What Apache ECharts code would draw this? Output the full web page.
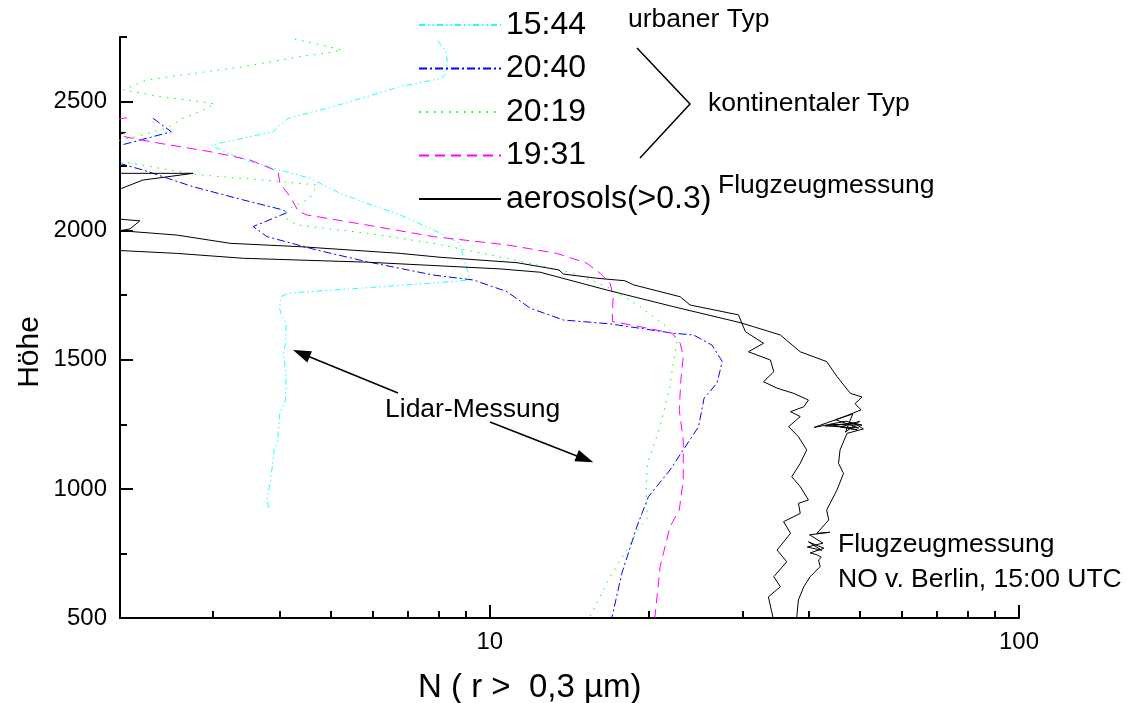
<!DOCTYPE html>
<html>
<head>
<meta charset="utf-8">
<title>Aerosol-Profile</title>
<script src="https://cdn.jsdelivr.net/npm/echarts@6.0.0/dist/echarts.min.js"></script>
<style>
  html, body { margin: 0; padding: 0; background: #fff; }
  #chart { width: 1127px; height: 703px; }
</style>
</head>
<body>
<div id="chart"></div>
<script>
// profiles: [N (r > 0.3 um), height]
// points with N < 2 lie left of the axis and are clipped away
const lidar1544 = [
  [7.97, 2735], [8.27, 2693], [8.31, 2650], [8.27, 2611], [8.11, 2590], [6.77, 2558],
  [5.85, 2519], [5.05, 2480], [4.16, 2435], [4.01, 2409], [3.89, 2383], [3.52, 2364],
  [2.98, 2332], [3.05, 2319], [3.37, 2280], [4.01, 2235], [4.57, 2203], [5.21, 2145],
  [5.85, 2106], [6.77, 2061], [7.82, 2003], [8.78, 1951], [8.91, 1899], [9.18, 1809],
  [7.81, 1797], [5.85, 1779], [4.16, 1758], [4.05, 1747], [4.00, 1700], [4.04, 1674],
  [4.12, 1641], [4.11, 1564], [4.07, 1525], [4.12, 1448], [4.11, 1344], [4.01, 1294],
  [3.97, 1178], [3.91, 1151], [3.88, 1085], [3.83, 1007], [3.79, 957], [3.83, 918]
];
const lidar2040 = [
  [2.31, 2435], [2.50, 2383], [2.015, 2332], [1.5, 2295], [2.015, 2258], [2.21, 2235],
  [2.75, 2170], [3.42, 2119], [4.07, 2080], [4.14, 2070], [3.57, 2016], [3.79, 1977],
  [4.71, 1925], [5.85, 1880], [7.82, 1828], [9.31, 1809], [10.77, 1764], [11.91, 1700],
  [13.77, 1654], [16.88, 1639], [22.2, 1603], [24.26, 1596], [26.28, 1557], [27.5, 1493],
  [26.86, 1409], [25.4, 1351], [24.8, 1241], [23.2, 1151], [21.9, 1073], [19.94, 970],
  [18.96, 854], [17.76, 673], [17.0, 500]
];
const lidar2019 = [
  [4.28, 2742], [4.63, 2726], [5.25, 2700], [5.05, 2692], [4.38, 2674], [3.42, 2635],
  [2.83, 2612], [2.25, 2584], [2.03, 2545], [2.38, 2519], [2.83, 2500], [3.02, 2491],
  [2.83, 2461], [2.63, 2435], [2.45, 2397], [2.21, 2371], [2.015, 2351], [1.5, 2310],
  [2.015, 2267], [2.38, 2242], [2.83, 2216], [4.01, 2190], [4.71, 2177], [4.57, 2125],
  [4.25, 2093], [4.01, 2061], [4.32, 2022], [5.85, 1990], [7.82, 1951], [10.77, 1893],
  [14.39, 1835], [16.64, 1783], [19.23, 1706], [21.6, 1628], [22.6, 1577], [22.2, 1486],
  [21.9, 1396], [20.98, 1241], [19.85, 1099], [19.74, 983], [19.85, 886], [19.23, 854],
  [18.0, 751], [16.88, 660], [15.4, 500]
];
const lidar1931 = [
  [2.06, 2437], [1.5, 2400], [2.04, 2364], [2.38, 2338], [2.96, 2306], [3.52, 2274],
  [3.98, 2229], [4.01, 2184], [4.19, 2132], [4.35, 2074], [4.51, 2061], [5.85, 2022],
  [7.82, 1977], [10.77, 1945], [13.38, 1912], [15.25, 1874], [16.16, 1835], [16.88, 1796],
  [17.1, 1744], [17.04, 1674], [17.06, 1648], [19.23, 1628], [22.1, 1603], [22.9, 1564],
  [23.2, 1512], [22.96, 1422], [22.8, 1306], [23.2, 1189], [23.2, 1034], [22.8, 918],
  [21.9, 854], [20.98, 699], [20.5, 500]
];
// aircraft profile: up on the left branch, down on the right branch
const aerosols = [
  [34.3, 500], [33.6, 582], [35.4, 621], [34.4, 660], [36.4, 718], [34.9, 763],
  [37.0, 828], [35.9, 873], [38.6, 905], [38.3, 944], [40.0, 957], [38.6, 1009],
  [37.2, 1047], [38.6, 1099], [39.7, 1151], [38.3, 1202], [36.7, 1241], [38.6, 1280],
  [37.0, 1299], [39.2, 1318], [40.0, 1344], [37.5, 1370], [34.9, 1390], [32.9, 1415],
  [34.4, 1454], [33.9, 1499], [30.8, 1531], [32.9, 1564], [30.4, 1609],
  [29.5, 1674], [23.9, 1712], [22.9, 1744], [18.7, 1790], [18.0, 1806], [15.9, 1816],
  [13.77, 1832], [13.5, 1848], [11.25, 1876], [8.05, 1897], [6.77, 1912], [4.38, 1938],
  [3.23, 1951], [2.56, 1983], [2.0, 2000], [2.09, 2007], [2.18, 2038], [2.01, 2044],
  [1.5, 2100], [2.015, 2164], [2.21, 2196], [2.75, 2222], [2.015, 2222], [1.5, 2300],
  [2.05, 2380], [1.5, 2390], [1.5, 1922],
  [2.0, 1923], [2.56, 1912], [3.42, 1893], [5.85, 1878], [10.45, 1852], [12.45, 1839],
  [16.64, 1770], [22.2, 1706], [29.7, 1644], [31.5, 1628],
  [35.4, 1596], [38.6, 1531], [43.3, 1493], [45.3, 1435], [48.0, 1370],
  [50.5, 1356], [49.0, 1330], [50.3, 1306], [46.5, 1278], [41.0, 1238], [47.0, 1262],
  [50.5, 1247], [44.0, 1250], [49.5, 1228], [46.0, 1240], [50.0, 1262], [47.0, 1220],
  [48.5, 1290], [45.0, 1268], [49.8, 1236], [43.0, 1244], [48.8, 1255], [50.8, 1232],
  [47.3, 1215], [45.9, 1151], [45.6, 1099], [46.6, 1060], [45.3, 996], [43.3, 918],
  [43.7, 880], [41.5, 828],
  [43.9, 832], [40.2, 822], [42.6, 790], [39.8, 775], [42.4, 762], [40.0, 795],
  [42.8, 770], [40.3, 752], [41.5, 745], [42.3, 735], [41.8, 725],
  [42.1, 699], [40.3, 660], [39.2, 621], [38.3, 570], [38.0, 500]
];

// axis ticks
const xMajorTicks = [10, 100];
const xMinorTicks = [3, 4, 5, 6, 7, 8, 9, 20, 30, 40, 50, 60, 70, 80, 90];
const yMajorTicks = [500, 1000, 1500, 2000, 2500];
const yMinorTicks = [750, 1250, 1750, 2250, 2750];

const FONT = '"Liberation Sans", Arial, sans-serif';

const chart = echarts.init(document.getElementById('chart'));

const makeSeries = (name, data, color, dash) => ({
  name: name,
  type: 'line',
  data: data,
  symbol: 'none',
  clip: true,
  xAxisIndex: 0,
  yAxisIndex: 0,
  lineStyle: { color: color, width: 1, type: dash },
  itemStyle: { color: color },
  emphasis: { disabled: true }
});

const txt = (text, x, y, size) => ({
  type: 'text', x: x, y: y,
  style: { text: text, fontSize: size, fontFamily: FONT, fill: '#000', verticalAlign: 'middle' }
});

chart.setOption({
  animation: false,
  backgroundColor: '#fff',
  grid: { left: 120, right: 108, top: 37, bottom: 85 },
  legend: {
    orient: 'vertical',
    left: 413,
    top: 4,
    itemWidth: 82,
    itemHeight: 14,
    itemGap: 11.5,
    itemStyle: { opacity: 0, borderWidth: 0 },
    textStyle: { fontSize: 32, fontFamily: FONT, color: '#000', lineHeight: 30 },
    data: ['15:44', '20:40', '20:19', '19:31', 'aerosols(>0.3)']
  },
  xAxis: [
    {
      type: 'log', min: 2, max: 100, position: 'bottom',
      axisLine: { lineStyle: { color: '#000', width: 2 } },
      axisTick: { inside: true, length: 13, customValues: xMajorTicks, lineStyle: { color: '#000', width: 2 } },
      axisLabel: { customValues: xMajorTicks, margin: 12, fontSize: 24, fontFamily: FONT, color: '#000' },
      splitLine: { show: false }
    },
    {
      type: 'log', min: 2, max: 100, position: 'bottom', offset: 0,
      axisLine: { show: false },
      axisTick: { inside: true, length: 7, customValues: xMinorTicks, lineStyle: { color: '#000', width: 2 } },
      axisLabel: { show: false },
      splitLine: { show: false }
    }
  ],
  yAxis: [
    {
      type: 'value', min: 500, max: 2750, interval: 500, position: 'left',
      axisLine: { show: true, lineStyle: { color: '#000', width: 2 } },
      axisTick: { show: true, inside: true, length: 13, customValues: yMajorTicks, lineStyle: { color: '#000', width: 2 } },
      axisLabel: {
        customValues: yMajorTicks, margin: 13, fontSize: 24, fontFamily: FONT, color: '#000',
        formatter: (v) => String(v)
      },
      splitLine: { show: false }
    },
    {
      type: 'value', min: 500, max: 2750, interval: 250, position: 'left', offset: 0,
      axisLine: { show: false },
      axisTick: { show: true, inside: true, length: 7, customValues: yMinorTicks, lineStyle: { color: '#000', width: 2 } },
      axisLabel: { show: false },
      splitLine: { show: false }
    }
  ],
  series: [
    makeSeries('15:44', lidar1544, '#22ffff', [6, 3, 1.5, 3, 1.5, 3]),
    makeSeries('20:40', lidar2040, '#0000ff', [8, 3, 2, 3]),
    makeSeries('20:19', lidar2019, '#00ff00', [1.5, 6]),
    makeSeries('19:31', lidar1931, '#ff00ff', [10, 6]),
    makeSeries('aerosols(>0.3)', aerosols, '#000000', 'solid')
  ],
  graphic: [
    txt('urbaner Typ', 628, 20, 26.5),
    txt('kontinentaler Typ', 708, 104, 26.5),
    txt('Flugzeugmessung', 718, 186, 26.5),
    txt('Lidar-Messung', 385, 410, 26.5),
    txt('Flugzeugmessung', 838, 545, 26.5),
    txt('NO v. Berlin, 15:00 UTC', 838, 580, 26.5),
    txt('N ( r >  0,3 \u00b5m)', 418, 688, 33),
    {
      type: 'text', x: 30, y: 352, rotation: Math.PI / 2,
      style: { text: 'Höhe', fontSize: 30, fontFamily: FONT, fill: '#000', align: 'center', verticalAlign: 'middle' }
    },
    // bracket for the continental profiles
    {
      type: 'polyline',
      shape: { points: [[637, 48], [690, 104], [640, 158]] },
      style: { stroke: '#000', lineWidth: 1.5, fill: null }
    },
    // arrows from the Lidar label
    { type: 'line', shape: { x1: 398, y1: 393, x2: 305, y2: 355 }, style: { stroke: '#000', lineWidth: 1.5 } },
    { type: 'polygon', shape: { points: [[293, 350], [311.9, 351.3], [307.3, 362.4]] }, style: { fill: '#000' } },
    { type: 'line', shape: { x1: 490, y1: 422, x2: 582, y2: 458 }, style: { stroke: '#000', lineWidth: 1.5 } },
    { type: 'polygon', shape: { points: [[593.3, 462.3], [574.4, 461.3], [578.8, 450.1]] }, style: { fill: '#000' } }
  ]
});

window.addEventListener('resize', () => chart.resize());
</script>
</body>
</html>
